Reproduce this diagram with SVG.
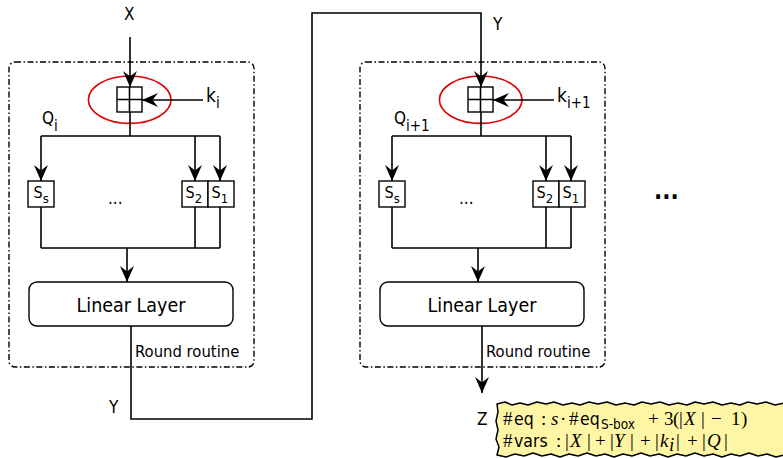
<svg xmlns="http://www.w3.org/2000/svg" width="783" height="458" viewBox="0 0 783 458">
<defs>
<marker id="ah" markerUnits="userSpaceOnUse" markerWidth="18" markerHeight="18" viewBox="-17 -9 18 18" refX="0" refY="0" orient="auto">
<path d="M0,0 L-16,-7 L-10.5,0 L-16,7 Z" fill="#000"/>
</marker>
</defs>
<style>
.ln{fill:none;stroke:#000;stroke-width:1.6}
.ar{fill:none;stroke:#000;stroke-width:1.6;marker-end:url(#ah)}
.rr{fill:none;stroke:#000;stroke-width:1.4;stroke-dasharray:6 2.5 1.5 2.5}
.bx{fill:#fff;stroke:#000;stroke-width:1.4}
.el{fill:none;stroke:#e00000;stroke-width:1.6}
text{font-family:"DejaVu Sans Condensed","DejaVu Sans",sans-serif;font-stretch:condensed;fill:#000}
.lb{font-size:17px}
.kb{font-size:19px}
.sb{font-size:13px}
.sk{font-size:15px}
.s{font-size:16px}
.ll{font-size:19.5px}
.rt{font-size:16.5px}
.m{font-family:"Liberation Serif","DejaVu Serif",serif;font-stretch:normal;font-size:19px}
.mi{font-family:"Liberation Serif","DejaVu Serif",serif;font-stretch:normal;font-style:italic;font-size:19px}
.ms{font-size:17.5px}
.sx{font-size:13.5px;font-stretch:normal}
</style>
<rect width="783" height="458" fill="#fff"/>

<g id="round1">
<rect class="rr" x="9" y="62" width="245" height="305" rx="6"/>
<ellipse class="el" cx="129.7" cy="99.7" rx="41.3" ry="23.7"/>
<g id="xor1">
<rect class="bx" x="117" y="87" width="25" height="25"/>
<path class="ln" d="M129.5,87 V112 M117,99.5 H142"/>
</g>
<g id="ss1"><rect class="bx" x="28" y="181" width="26" height="26"/><text class="s" x="33.5" y="198">S<tspan class="sb" dy="5">s</tspan></text></g>
<g id="s21"><rect class="bx" x="182" y="181" width="26" height="26"/><text class="s" x="185.5" y="198">S<tspan class="sb" dy="5">2</tspan></text></g>
<g id="s11"><rect class="bx" x="208" y="181" width="26" height="26"/><text class="s" x="211.5" y="198">S<tspan class="sb" dy="5">1</tspan></text></g>
<text class="lb" x="108" y="204">...</text>
<g id="lin1"><rect class="bx" x="29" y="282" width="204" height="44" rx="8"/><text class="ll" x="131" y="311.5" text-anchor="middle">Linear Layer</text></g>
<text class="rt" x="135" y="357">Round routine</text>
<text class="lb" x="42" y="124">Q<tspan class="sk" dy="7">i</tspan></text>
<text class="kb" x="206" y="102">k<tspan class="sk" dy="6">i</tspan></text>
</g>

<g id="round2">
<rect class="rr" x="360" y="62" width="245" height="305" rx="6"/>
<ellipse class="el" cx="480.7" cy="99.7" rx="41.3" ry="23.7"/>
<g id="xor2">
<rect class="bx" x="468" y="87" width="25" height="25"/>
<path class="ln" d="M480.5,87 V112 M468,99.5 H493"/>
</g>
<g id="ss2"><rect class="bx" x="379" y="181" width="26" height="26"/><text class="s" x="384.5" y="198">S<tspan class="sb" dy="5">s</tspan></text></g>
<g id="s22"><rect class="bx" x="533" y="181" width="26" height="26"/><text class="s" x="536.5" y="198">S<tspan class="sb" dy="5">2</tspan></text></g>
<g id="s12"><rect class="bx" x="559" y="181" width="26" height="26"/><text class="s" x="562.5" y="198">S<tspan class="sb" dy="5">1</tspan></text></g>
<text class="lb" x="459" y="204">...</text>
<g id="lin2"><rect class="bx" x="380" y="282" width="204" height="44" rx="8"/><text class="ll" x="482" y="311.5" text-anchor="middle">Linear Layer</text></g>
<text class="rt" x="486" y="357">Round routine</text>
<text class="lb" x="394" y="124">Q<tspan class="sk" dy="7">i+1</tspan></text>
<text class="kb" x="557" y="102">k<tspan class="sk" dy="6">i+1</tspan></text>
</g>

<g id="connectors">
<path class="ar" d="M130,37 V87"/>
<path class="ar" d="M203,100 H142"/>
<path class="ln" d="M130,112 V136 M41,136 H220"/>
<path class="ar" d="M41,136 V181"/>
<path class="ar" d="M195,136 V181"/>
<path class="ar" d="M220,136 V181"/>
<path class="ln" d="M41,207 V248 M195,207 V248 M220,207 V248 M41,248 H220"/>
<path class="ar" d="M127,248 V282"/>
<path class="ar" d="M131,326 V419 H312 V13 H481 V87"/>
<path class="ar" d="M554,100 H493"/>
<path class="ln" d="M481,112 V136 M392,136 H571"/>
<path class="ar" d="M392,136 V181"/>
<path class="ar" d="M546,136 V181"/>
<path class="ar" d="M571,136 V181"/>
<path class="ln" d="M392,207 V248 M546,207 V248 M571,207 V248 M392,248 H571"/>
<path class="ar" d="M478,248 V282"/>
<path class="ar" d="M482,326 V393"/>
</g>

<g id="labels">
<text class="lb" x="124" y="20">X</text>
<text class="lb" x="493" y="30">Y</text>
<text class="lb" x="109" y="413">Y</text>
<text class="lb" x="477" y="425">Z</text>
<text x="654" y="199" font-size="24" font-weight="bold">...</text>
</g>

<g id="note">
<path d="M497,404 L505,402 L512,405 L520,403 L528,405 L537,402 L546,404 L554,402 L563,405 L572,403 L580,405 L589,402 L598,404 L607,402 L616,405 L625,403 L634,405 L642,402 L651,404 L660,402 L669,405 L678,403 L687,405 L695,402 L704,404 L713,402 L722,405 L731,403 L740,405 L748,402 L757,404 L766,402 L775,405 L784,403 L784,455 L776,457 L767,454 L758,456 L749,453 L740,456 L731,454 L722,457 L713,454 L704,456 L695,453 L686,456 L677,454 L668,457 L659,454 L650,456 L641,453 L632,456 L623,454 L614,457 L605,454 L596,456 L587,453 L578,456 L569,454 L560,457 L551,454 L542,456 L533,453 L524,456 L515,454 L506,457 L497,455 L499,447 L496,439 L498,430 L496,421 L498,412 Z" fill="#fff6a5" stroke="#000" stroke-width="1.5" stroke-linejoin="round"/>
<text y="425"><tspan class="m" x="503">#</tspan><tspan class="ms" x="514">eq</tspan><tspan class="m" x="541">:</tspan><tspan class="mi" x="551">s</tspan><tspan class="m" x="560">·</tspan><tspan class="m" x="569">#</tspan><tspan class="ms" x="580">eq</tspan><tspan class="sx" x="601" y="429">S-box</tspan><tspan class="m" x="648" y="425">+</tspan><tspan class="m" x="664">3</tspan><tspan class="m" x="673">(</tspan><tspan class="m" x="679">|</tspan><tspan class="mi" x="684">X</tspan><tspan class="m" x="701">|</tspan><tspan class="m" x="711">−</tspan><tspan class="m" x="731">1</tspan><tspan class="m" x="741">)</tspan></text>
<text y="447"><tspan class="m" x="503">#</tspan><tspan class="ms" x="514">vars</tspan><tspan class="m" x="556">:</tspan><tspan class="m" x="565">|</tspan><tspan class="mi" x="570">X</tspan><tspan class="m" x="587">|</tspan><tspan class="m" x="595">+</tspan><tspan class="m" x="610">|</tspan><tspan class="mi" x="614">Y</tspan><tspan class="m" x="630">|</tspan><tspan class="m" x="640">+</tspan><tspan class="m" x="655">|</tspan><tspan class="mi" x="660">k</tspan><tspan class="mi" x="669" y="451" font-size="13">i</tspan><tspan class="m" x="676" y="447">|</tspan><tspan class="m" x="687">+</tspan><tspan class="m" x="702">|</tspan><tspan class="mi" x="707">Q</tspan><tspan class="m" x="724">|</tspan></text>
</g>
</svg>
